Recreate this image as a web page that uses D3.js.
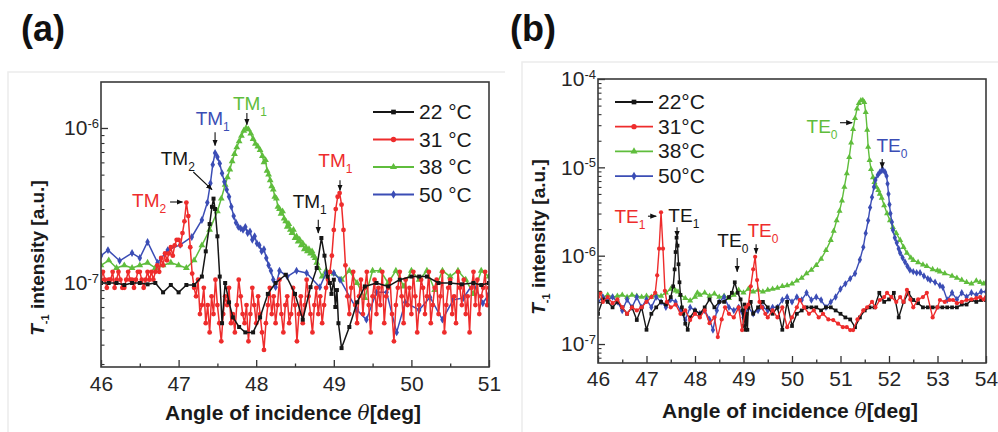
<!DOCTYPE html>
<html>
<head>
<meta charset="utf-8">
<script src="https://cdn.jsdelivr.net/npm/d3@7"></script>
<style>
  body { margin: 0; background: #fff; }
  svg text { font-family: "Liberation Sans", Arial, sans-serif; }
</style>
</head>
<body>
<svg id="chart" width="998" height="432"></svg>
<script>
// Intensities in the series below are in units of 1e-7 a.u.
const UNIT = 1e-7;

// ---------- Panel (a): TM modes ----------
const thetaTicksA = [46, 47, 48, 49, 50, 51];
const decadesA = [1e-7, 1e-6];
const legendA = ["22 °C", "31 °C", "38 °C", "50 °C"];

const tm22 = [[46.0,1.0],[46.1,1.0],[46.2,1.0],[46.3,0.97],[46.4,1.0],[46.5,1.0],[46.6,0.98],[46.7,1.0],[46.8,0.87],[46.9,0.97],[47.0,0.87],[47.1,0.97],[47.2,0.97],[47.3,1.1],[47.35,1.6],[47.4,2.4],[47.43,3.1],[47.45,3.5],[47.47,3.0],[47.5,2.0],[47.53,1.1],[47.56,0.55],[47.6,1.0],[47.65,0.75],[47.7,0.6],[47.78,0.52],[47.86,0.48],[47.96,0.48],[48.05,0.6],[48.15,0.85],[48.25,1.0],[48.38,1.13],[48.5,0.85],[48.6,0.58],[48.7,0.94],[48.78,1.25],[48.84,1.95],[48.88,1.5],[48.92,1.1],[48.95,1.0],[48.97,0.85],[49.0,1.05],[49.02,0.7],[49.04,0.9],[49.06,0.55],[49.1,0.38],[49.2,0.52],[49.3,0.75],[49.4,0.95],[49.55,1.0],[49.7,0.95],[49.85,1.05],[50.0,1.1],[50.1,1.1],[50.2,1.1],[50.35,1.0],[50.5,1.0],[50.65,0.98],[50.8,1.0],[50.9,0.97],[51.0,1.0]];

const tm31 = [
  [46.000,1.05],[46.025,1.18],[46.050,1.05],[46.075,0.93],[46.100,1.05],[46.125,1.05],[46.150,1.18],[46.175,0.93],[46.200,1.05],[46.225,1.18],
  [46.250,1.05],[46.275,0.93],[46.300,0.93],[46.325,1.05],[46.350,1.18],[46.375,1.05],[46.400,1.05],[46.425,0.93],[46.450,1.05],[46.475,1.18],
  [46.500,1.18],[46.525,1.05],[46.550,0.93],[46.575,1.05],[46.600,1.18],[46.625,1.05],[46.650,1.18],[46.675,1.05],[46.700,1.18],[46.725,1.3],
  [46.750,1.18],[46.775,1.45],[46.800,1.3],[46.825,1.55],[46.850,1.4],[46.875,1.55],[46.900,1.7],[46.925,1.5],[46.950,1.75],[46.975,1.9],
  [47.000,1.9],[47.025,1.75],[47.050,2.1],[47.075,2.5],[47.100,3.3],[47.125,2.7],[47.150,1.7],[47.175,1.15],[47.200,0.93],
  [47.225,0.82],[47.250,1.05],[47.275,0.63],[47.300,0.72],[47.325,0.93],[47.350,0.55],[47.375,0.72],[47.400,0.48],[47.425,0.82],[47.450,0.63],
  [47.475,1.05],[47.500,0.72],[47.525,0.55],[47.550,0.42],[47.575,0.63],[47.600,0.82],[47.625,0.72],[47.650,0.93],[47.675,0.55],[47.700,0.63],
  [47.725,0.48],[47.750,0.72],[47.775,1.05],[47.800,0.82],[47.825,0.63],[47.850,0.55],[47.875,0.72],[47.900,0.42],[47.925,0.63],[47.950,0.93],
  [47.975,0.72],[48.000,0.55],[48.025,0.82],[48.050,0.63],[48.075,0.48],[48.100,0.37],[48.125,0.55],[48.150,0.72],[48.175,0.93],[48.200,0.63],
  [48.225,0.82],[48.250,0.55],[48.275,0.72],[48.300,1.05],[48.325,0.63],[48.350,0.48],[48.375,0.72],[48.400,0.82],[48.425,0.55],[48.450,0.63],
  [48.475,0.93],[48.500,0.72],[48.525,0.42],[48.550,0.63],[48.575,0.82],[48.600,0.55],[48.625,0.72],[48.650,1.05],[48.675,0.82],[48.700,0.63],
  [48.725,0.48],[48.750,0.72],[48.775,0.93],[48.800,0.63],[48.825,0.82],[48.850,0.55],[48.875,0.72],[48.900,0.93],[48.925,1.05],[48.950,1.18],
  [48.975,1.5],[49.000,2.2],[49.025,3.0],[49.050,3.6],[49.075,3.8],[49.100,3.2],[49.125,2.2],[49.150,1.3],[49.175,0.82],[49.200,0.63],
  [49.225,0.93],[49.250,1.18],[49.275,0.72],[49.300,0.55],[49.325,0.82],[49.350,1.05],[49.375,0.63],[49.400,0.93],[49.425,1.18],[49.450,0.72],
  [49.475,0.48],[49.500,0.82],[49.525,1.05],[49.550,0.63],[49.575,0.93],[49.600,0.72],[49.625,1.18],[49.650,0.55],[49.675,0.82],[49.700,0.93],
  [49.725,1.05],[49.750,0.63],[49.775,0.42],[49.800,0.72],[49.825,0.93],[49.850,1.18],[49.875,0.82],[49.900,0.55],[49.925,1.05],[49.950,0.72],
  [49.975,0.93],[50.000,0.63],[50.025,1.18],[50.050,0.82],[50.075,0.48],[50.100,0.72],[50.125,1.05],[50.150,0.93],[50.175,0.63],[50.200,0.82],
  [50.225,1.18],[50.250,0.55],[50.275,0.72],[50.300,0.93],[50.325,1.05],[50.350,0.63],[50.375,0.82],[50.400,1.18],[50.425,0.48],[50.450,0.72],
  [50.475,0.93],[50.500,1.05],[50.525,0.63],[50.550,0.82],[50.575,0.55],[50.600,1.18],[50.625,0.93],[50.650,0.72],[50.675,1.05],[50.700,0.63],
  [50.725,0.82],[50.750,0.48],[50.775,0.93],[50.800,1.18],[50.825,0.72],[50.850,1.05],[50.875,0.63],[50.900,0.82],[50.925,0.93],[50.950,1.18],
  [50.975,0.72],[51.000,0.93]
];

const tm38 = [[46.0,1.3],[46.1,1.4],[46.2,1.25],[46.3,1.3],[46.4,1.25],[46.5,1.3],[46.6,1.35],[46.7,1.25],[46.8,1.3],[46.9,1.35],[47.0,1.3],[47.1,1.25],[47.2,1.4],[47.3,1.75],[47.4,2.2],[47.5,2.9],[47.55,3.5],[47.6,4.3],[47.63,4.8],[47.66,5.4],[47.69,6.1],[47.72,6.8],[47.75,7.5],[47.78,8.2],[47.81,8.9],[47.84,9.6],[47.87,10.0],[47.9,9.8],[47.93,9.2],[47.96,8.5],[47.99,7.9],[48.02,7.6],[48.05,7.2],[48.08,6.6],[48.1,6.0],[48.12,6.2],[48.14,5.3],[48.16,5.0],[48.18,4.6],[48.2,4.2],[48.22,4.0],[48.24,3.6],[48.26,3.5],[48.28,3.1],[48.3,3.0],[48.32,2.8],[48.34,2.9],[48.36,2.6],[48.38,2.5],[48.4,2.3],[48.42,2.4],[48.44,2.2],[48.46,2.1],[48.48,2.2],[48.5,1.95],[48.52,2.0],[48.54,1.85],[48.56,1.9],[48.58,1.75],[48.6,1.8],[48.62,1.65],[48.64,1.7],[48.66,1.6],[48.68,1.65],[48.7,1.55],[48.72,1.6],[48.74,1.5],[48.76,1.45],[48.78,1.35],[48.8,1.25],[48.85,1.1],[48.9,1.2],[49.0,1.15],[49.1,1.05],[49.2,1.2],[49.3,1.0],[49.4,0.8],[49.5,1.2],[49.6,1.2],[49.7,1.0],[49.8,1.2],[49.9,0.95],[50.0,1.2],[50.1,1.05],[50.2,1.2],[50.3,0.9],[50.4,1.2],[50.5,1.1],[50.6,1.2],[50.7,1.05],[50.8,0.85],[50.9,1.2],[51.0,1.1]];

const tm50 = [[46.0,1.5],[46.09,1.63],[46.24,1.39],[46.4,1.56],[46.5,1.45],[46.6,1.84],[46.73,1.35],[46.86,1.63],[47.02,1.76],[47.17,1.98],[47.3,2.55],[47.37,3.3],[47.41,4.4],[47.44,5.8],[47.47,6.9],[47.5,6.5],[47.53,5.9],[47.56,5.1],[47.59,4.5],[47.62,4.0],[47.65,3.6],[47.68,3.1],[47.71,2.7],[47.74,2.45],[47.77,2.3],[47.8,2.25],[47.83,2.2],[47.86,2.3],[47.89,2.1],[47.92,2.15],[47.95,1.9],[47.98,2.0],[48.01,1.8],[48.04,1.75],[48.07,1.6],[48.1,1.65],[48.13,1.45],[48.16,1.3],[48.19,1.2],[48.22,1.05],[48.25,0.94],[48.3,1.2],[48.4,1.1],[48.52,1.2],[48.65,1.16],[48.82,0.94],[48.9,1.16],[49.0,1.16],[49.08,1.05],[49.3,0.67],[49.42,0.58],[49.55,0.87],[49.68,0.87],[49.81,0.48],[49.92,0.75],[50.1,0.67],[50.24,0.81],[50.4,0.58],[50.54,0.78],[50.67,0.8],[50.8,1.0],[50.92,0.74],[51.0,0.85]];

// ---------- Panel (b): TE modes ----------
const thetaTicksB = [46, 47, 48, 49, 50, 51, 52, 53, 54];
const decadesB = [1e-7, 1e-6, 1e-5, 1e-4];
const legendB = ["22°C", "31°C", "38°C", "50°C"];

const te22 = [[46.0,2.2],[46.1,3.2],[46.2,3.0],[46.3,2.6],[46.4,3.0],[46.5,2.6],[46.6,2.2],[46.7,2.6],[46.8,1.87],[46.9,2.6],[47.0,1.45],[47.1,2.2],[47.2,2.6],[47.3,3.0],[47.4,2.8],[47.5,3.4],[47.55,4.5],[47.58,7],[47.6,11],[47.62,16],[47.64,13],[47.66,8],[47.68,5],[47.7,3.6],[47.73,2.6],[47.76,2.2],[47.8,1.7],[47.85,1.45],[47.9,2.0],[48.0,2.4],[48.1,2.2],[48.2,2.6],[48.3,3.2],[48.4,2.6],[48.5,3.0],[48.6,3.0],[48.7,3.4],[48.76,3.8],[48.82,5.0],[48.88,3.8],[48.94,3.2],[48.98,2.4],[49.0,1.6],[49.02,2.8],[49.04,1.45],[49.06,2.2],[49.08,1.45],[49.1,2.6],[49.15,3.0],[49.2,2.2],[49.3,2.6],[49.4,3.0],[49.5,2.6],[49.6,2.2],[49.7,2.6],[49.8,1.45],[49.9,3.0],[50.0,1.6],[50.1,2.2],[50.2,2.4],[50.3,2.6],[50.4,2.6],[50.5,2.6],[50.6,2.4],[50.7,2.6],[50.8,2.6],[50.9,2.4],[51.0,2.2],[51.1,2.0],[51.2,1.9],[51.3,1.55],[51.4,2.0],[51.5,2.4],[51.6,2.6],[51.7,2.6],[51.8,3.8],[51.9,3.0],[52.0,3.2],[52.1,3.8],[52.2,2.0],[52.3,3.0],[52.4,3.8],[52.5,3.15],[52.6,2.9],[52.7,2.6],[52.8,2.6],[52.9,2.6],[53.0,2.6],[53.1,2.6],[53.2,2.6],[53.3,2.6],[53.4,2.6],[53.5,2.8],[53.6,2.8],[53.7,3.15],[53.8,3.0],[53.9,3.15],[54.0,3.15]];

const te31 = [[46.0,3.4],[46.05,3.8],[46.1,3.0],[46.2,3.4],[46.3,2.9],[46.4,3.2],[46.5,2.6],[46.6,2.2],[46.7,2.6],[46.8,2.4],[46.9,2.6],[47.0,3.0],[47.1,3.4],[47.18,3.8],[47.22,6],[47.26,12],[47.3,31],[47.34,12],[47.38,4],[47.42,3.0],[47.5,2.6],[47.6,2.8],[47.7,2.2],[47.8,2.4],[47.9,1.87],[48.0,2.2],[48.1,2.0],[48.2,2.4],[48.3,1.72],[48.4,2.0],[48.47,1.2],[48.55,1.9],[48.62,2.6],[48.7,2.2],[48.8,2.0],[48.9,2.6],[48.97,1.44],[49.05,2.6],[49.1,2.8],[49.15,4.5],[49.2,7],[49.24,9.7],[49.28,5.3],[49.33,3.0],[49.38,2.6],[49.45,2.2],[49.5,2.0],[49.6,2.4],[49.7,2.0],[49.8,2.6],[49.9,1.55],[50.0,2.0],[50.1,2.6],[50.16,3.15],[50.25,2.6],[50.35,2.2],[50.45,2.4],[50.55,2.0],[50.64,2.2],[50.75,1.9],[50.85,1.87],[50.95,1.7],[51.05,1.55],[51.13,1.55],[51.2,1.44],[51.26,1.44],[51.35,1.9],[51.47,2.4],[51.55,2.6],[51.65,3.0],[51.72,2.6],[51.81,3.15],[51.9,3.4],[51.96,3.8],[52.05,3.4],[52.15,3.0],[52.23,3.4],[52.3,3.0],[52.37,4.1],[52.44,3.2],[52.5,2.6],[52.6,3.2],[52.7,3.4],[52.78,3.8],[52.9,2.0],[53.0,2.6],[53.05,3.15],[53.15,3.0],[53.25,3.15],[53.32,3.15],[53.4,2.9],[53.5,3.0],[53.6,3.15],[53.7,3.2],[53.8,3.3],[53.88,3.4],[53.95,3.2],[54.0,3.4]];

const te38 = [[46.0,3.8],[46.1,3.4],[46.2,3.6],[46.3,3.4],[46.4,3.5],[46.5,3.6],[46.6,3.4],[46.7,3.6],[46.8,3.5],[46.9,3.4],[47.0,3.5],[47.1,3.4],[47.2,3.6],[47.3,3.5],[47.4,3.8],[47.5,4.2],[47.55,4.4],[47.6,4.0],[47.65,3.9],[47.7,3.6],[47.8,3.3],[47.9,3.1],[48.0,3.4],[48.05,3.8],[48.1,3.6],[48.2,3.8],[48.3,3.5],[48.4,3.7],[48.5,3.4],[48.6,3.5],[48.7,3.3],[48.8,3.6],[48.9,4.1],[49.0,3.8],[49.1,4.2],[49.2,3.9],[49.3,4.1],[49.4,3.9],[49.5,4.1],[49.6,4.2],[49.7,4.3],[49.8,4.5],[49.9,4.6],[50.0,4.8],[50.1,5.2],[50.2,5.6],[50.3,6.3],[50.4,6.9],[50.5,7.8],[50.6,9.2],[50.7,11.5],[50.8,15],[50.86,19],[50.92,25],[50.98,32],[51.03,42],[51.08,60],[51.13,85],[51.18,130],[51.22,190],[51.26,270],[51.3,360],[51.34,460],[51.38,530],[51.42,570],[51.46,575],[51.49,545],[51.52,420],[51.55,265],[51.57,170],[51.6,120],[51.63,95],[51.67,77],[51.7,68],[51.74,60],[51.78,55],[51.81,50],[51.85,45],[51.9,37],[51.96,30],[52.02,25],[52.08,21],[52.15,18],[52.23,15],[52.3,12.5],[52.37,10.7],[52.45,9.5],[52.5,8.9],[52.6,8.4],[52.7,7.9],[52.78,7.6],[52.9,7.0],[53.0,6.8],[53.05,6.6],[53.15,6.3],[53.3,5.9],[53.4,5.6],[53.5,5.3],[53.6,5.0],[53.7,4.8],[53.8,5.2],[53.88,5.0],[53.95,4.8],[54.0,5.0]];

const te50 = [[46.0,3.0],[46.1,3.4],[46.2,3.2],[46.3,3.4],[46.4,3.0],[46.5,2.4],[46.6,3.2],[46.7,2.6],[46.8,3.4],[46.9,2.6],[47.0,3.2],[47.1,2.6],[47.2,3.4],[47.3,3.0],[47.4,2.6],[47.5,3.2],[47.6,3.0],[47.7,2.4],[47.8,1.87],[47.9,2.6],[48.0,2.4],[48.1,2.2],[48.2,2.4],[48.3,1.9],[48.37,1.44],[48.45,2.4],[48.5,3.0],[48.6,3.4],[48.7,2.6],[48.8,2.4],[48.9,2.6],[49.0,2.0],[49.1,2.6],[49.2,2.2],[49.3,2.4],[49.4,2.6],[49.5,2.4],[49.6,2.6],[49.7,2.6],[49.8,3.15],[49.9,3.4],[50.0,3.0],[50.1,3.4],[50.2,3.15],[50.3,3.8],[50.4,3.15],[50.5,3.4],[50.6,3.15],[50.7,2.6],[50.8,3.0],[50.9,3.4],[51.0,4.2],[51.1,4.8],[51.2,5.5],[51.3,6.3],[51.4,9],[51.47,12.5],[51.52,18],[51.57,25],[51.61,35],[51.65,46],[51.69,60],[51.72,72],[51.77,82],[51.81,88],[51.85,92],[51.88,93],[51.92,88],[51.95,80],[51.97,65],[51.99,50],[52.01,38],[52.03,30],[52.06,24],[52.08,19.5],[52.12,16],[52.16,14],[52.2,12],[52.23,10.7],[52.28,9.5],[52.33,8.5],[52.38,7.6],[52.43,6.9],[52.5,6.6],[52.57,6.4],[52.64,6.4],[52.72,5.9],[52.8,5.5],[52.85,5.3],[52.95,5.0],[53.05,4.6],[53.11,4.4],[53.2,3.15],[53.3,3.8],[53.4,3.2],[53.5,3.8],[53.6,3.4],[53.7,3.8],[53.8,3.6],[53.9,3.9],[54.0,3.9]];

// ---------- styles ----------
const COLORS = ["#161616", "#ee2c2c", "#5fbd3c", "#3b4db5"];
const SYMBOLS = [d3.symbolSquare, d3.symbolCircle, d3.symbolTriangle, d3.symbolDiamond];

const svg = d3.select("#chart");
const defs = svg.append("defs");
defs.append("marker")
  .attr("id", "arrowHead")
  .attr("viewBox", "0 0 10 10")
  .attr("refX", 9).attr("refY", 5)
  .attr("markerWidth", 6).attr("markerHeight", 6)
  .attr("orient", "auto")
  .append("path").attr("d", "M0,1L10,5L0,9z").attr("fill", "#111");

// faint outlines of the two figure tiles
svg.append("path").attr("d", "M8,432V72H505").attr("fill", "none").attr("stroke", "#ececec").attr("stroke-width", 1.5);
svg.append("path").attr("d", "M522,432V62H998").attr("fill", "none").attr("stroke", "#ececec").attr("stroke-width", 1.5);

function drawPanel(p) {
  const g = svg.append("g");
  const x = d3.scaleLinear().domain(p.xDomain).range([p.box.left, p.box.right]);
  const y = d3.scaleLog().domain(p.yDomain).range([p.box.bottom, p.box.top]);
  const yv = v => y(v * UNIT);

  // clip region for the data
  defs.append("clipPath").attr("id", p.id + "-clip")
    .append("rect")
    .attr("x", p.box.left).attr("y", p.box.top)
    .attr("width", p.box.right - p.box.left).attr("height", p.box.bottom - p.box.top);
  const plot = g.append("g").attr("clip-path", `url(#${p.id}-clip)`);

  const line = d3.line().x(d => x(d[0])).y(d => yv(d[1]));
  p.order.forEach(i => {
    const s = p.series[i];
    const sg = plot.append("g");
    sg.append("path").attr("d", line(s)).attr("fill", "none")
      .attr("stroke", COLORS[i]).attr("stroke-width", p.lineWidth).attr("stroke-linejoin", "round");
    sg.selectAll("path.pt").data(s).join("path").attr("class", "pt")
      .attr("transform", d => `translate(${x(d[0])},${yv(d[1])})`)
      .attr("d", d3.symbol().type(SYMBOLS[i]).size(p.markerSize[i]))
      .attr("fill", COLORS[i]);
  });

  // x axis (inward ticks)
  const xMinor = d3.range(p.xDomain[0], p.xDomain[1] + 0.01, 0.5).filter(v => v % 1 !== 0);
  g.append("g").attr("transform", `translate(0,${p.box.bottom})`)
    .call(d3.axisBottom(x).tickValues(xMinor).tickSize(-3.5).tickFormat(""))
    .call(a => a.select(".domain").remove())
    .selectAll("line").attr("stroke", "#333").attr("stroke-width", 1.3);
  g.append("g").attr("transform", `translate(0,${p.box.bottom})`)
    .call(d3.axisBottom(x).tickValues(p.xTicks).tickSizeInner(-7).tickSizeOuter(0).tickPadding(p.xPad).tickFormat(d3.format("d")))
    .call(a => a.select(".domain").remove())
    .call(a => a.selectAll("line").attr("stroke", "#333").attr("stroke-width", 1.3))
    .call(a => a.selectAll("text").attr("font-size", 21).attr("fill", "#262626")
      .attr("font-family", '"Liberation Sans", Arial, sans-serif'));

  // y axis, log scale with minor ticks
  const lo = Math.floor(Math.log10(p.yDomain[0])), hi = Math.ceil(Math.log10(p.yDomain[1]));
  const yMinor = [];
  for (let e = lo; e < hi; e++) for (let k = 2; k <= 9; k++) {
    const v = k * Math.pow(10, e);
    if (v >= p.yDomain[0] && v <= p.yDomain[1]) yMinor.push(v);
  }
  g.append("g").attr("transform", `translate(${p.box.left},0)`)
    .call(d3.axisLeft(y).tickValues(yMinor).tickSize(-3.5).tickFormat(""))
    .call(a => a.select(".domain").remove())
    .selectAll("line").attr("stroke", "#333").attr("stroke-width", 1.1);
  g.append("g").attr("transform", `translate(${p.box.left},0)`)
    .call(d3.axisLeft(y).tickValues(p.decades).tickSizeInner(-7).tickSizeOuter(0).tickPadding(p.yPad).tickFormat(""))
    .call(a => a.select(".domain").remove())
    .call(a => a.selectAll("line").attr("stroke", "#333").attr("stroke-width", 1.3))
    .call(a => a.selectAll("text").each(function (d) {
      const t = d3.select(this).attr("font-size", 21).attr("fill", "#262626")
        .attr("font-family", '"Liberation Sans", Arial, sans-serif');
      t.text("10");
      t.append("tspan").attr("dy", "-0.55em").attr("font-size", 13).text(String(Math.round(Math.log10(d))));
    }));

  // frame
  g.append("rect").attr("x", p.box.left).attr("y", p.box.top)
    .attr("width", p.box.right - p.box.left).attr("height", p.box.bottom - p.box.top)
    .attr("fill", "none").attr("stroke", "#3a3a3a").attr("stroke-width", 1.6);

  // axis titles
  const xt = g.append("text").attr("x", (p.box.left + p.box.right) / 2 - 2).attr("y", p.xTitleY)
    .attr("text-anchor", "middle").attr("font-size", 21).attr("font-weight", "bold").attr("fill", "#1a1a1a");
  xt.append("tspan").text("Angle of incidence ");
  xt.append("tspan").attr("font-style", "italic").attr("font-weight", "normal").attr("font-family", '"DejaVu Serif", serif').attr("font-size", 20).text("θ");
  xt.append("tspan").text("[deg]");

  const yt = g.append("text")
    .attr("transform", `translate(${p.yTitleX},${p.yTitleCY}) rotate(-90)`)
    .attr("text-anchor", "middle").attr("font-size", 19).attr("font-weight", "bold").attr("fill", "#1a1a1a");
  yt.append("tspan").attr("font-style", "italic").text("T");
  yt.append("tspan").attr("font-size", 11).attr("dy", 5).text("-1");
  yt.append("tspan").attr("dy", -5).text(" intensity [a.u.]");

  // panel letter
  g.append("text").attr("x", p.letterX).attr("y", 41).attr("font-size", 36).attr("font-weight", "bold")
    .attr("font-family", '"Open Sans", "Liberation Sans", sans-serif').attr("fill", "#111").text(p.letter);

  // legend
  p.legend.forEach((lab, i) => {
    const cy = p.legendPos.y + i * p.legendPos.dy;
    const x0 = p.legendPos.x, x1 = p.legendPos.x + p.legendPos.len;
    g.append("line").attr("x1", x0).attr("x2", x1).attr("y1", cy).attr("y2", cy)
      .attr("stroke", COLORS[i]).attr("stroke-width", 1.8);
    g.append("path").attr("transform", `translate(${(x0 + x1) / 2},${cy})`)
      .attr("d", d3.symbol().type(SYMBOLS[i]).size(22)).attr("fill", COLORS[i]);
    g.append("text").attr("x", x1 + 5).attr("y", cy + 7).attr("font-size", 21).attr("fill", "#1a1a1a")
      .text(lab);
  });

  // mode labels with arrows
  p.notes.forEach(n => {
    const t = g.append("text").attr("x", x(n.t)).attr("y", yv(n.v)).attr("text-anchor", "middle")
      .attr("font-size", 19).attr("fill", n.color);
    t.append("tspan").text(n.mode);
    t.append("tspan").attr("font-size", 12).attr("dy", 6).text(n.sub);
    g.append("line")
      .attr("x1", x(n.from[0])).attr("y1", yv(n.from[1]))
      .attr("x2", x(n.to[0])).attr("y2", yv(n.to[1]))
      .attr("stroke", "#111").attr("stroke-width", 1.1).attr("marker-end", "url(#arrowHead)");
  });
}

drawPanel({
  id: "pa", letter: "(a)", letterX: 21,
  box: { left: 101, right: 489, top: 82, bottom: 367 },
  xDomain: [46, 51], yDomain: [2.87e-8, 1.98e-6],
  xTicks: thetaTicksA, decades: decadesA, xPad: 9, yPad: 2,
  series: [tm22, tm31, tm38, tm50], order: [2, 3, 1, 0],
  lineWidth: 1.5, markerSize: [16, 18, 20, 18],
  xTitleY: 420, yTitleX: 44, yTitleCY: 258,
  legend: legendA, legendPos: { x: 373, y: 112, dy: 27.5, len: 41 },
  notes: [
    { mode: "TM", sub: "1", color: COLORS[3], t: 47.44, v: 10.45, from: [47.47, 9.4], to: [47.47, 7.7] },
    { mode: "TM", sub: "1", color: COLORS[2], t: 47.92, v: 13.1, from: [47.88, 12.5], to: [47.88, 10.5] },
    { mode: "TM", sub: "2", color: COLORS[0], t: 46.99, v: 5.77, from: [47.19, 5.2], to: [47.43, 4.0] },
    { mode: "TM", sub: "2", color: COLORS[1], t: 46.62, v: 3.09, from: [46.89, 3.33], to: [47.05, 3.33] },
    { mode: "TM", sub: "1", color: COLORS[0], t: 48.69, v: 3.05, from: [48.8, 2.56], to: [48.8, 2.1] },
    { mode: "TM", sub: "1", color: COLORS[1], t: 49.02, v: 5.6, from: [49.08, 4.6], to: [49.08, 3.95] }
  ]
});

drawPanel({
  id: "pb", letter: "(b)", letterX: 510,
  box: { left: 598, right: 986, top: 79, bottom: 363 },
  xDomain: [46, 54], yDomain: [6.1e-8, 1e-4],
  xTicks: thetaTicksB, decades: decadesB, xPad: 8, yPad: 2,
  series: [te22, te31, te38, te50], order: [2, 3, 0, 1],
  lineWidth: 1.4, markerSize: [14, 14, 16, 16],
  xTitleY: 418, yTitleX: 545, yTitleCY: 237,
  legend: legendB, legendPos: { x: 615, y: 102, dy: 24.7, len: 38 },
  notes: [
    { mode: "TE", sub: "1", color: COLORS[1], t: 46.66, v: 23.4, from: [47.03, 28], to: [47.2, 28] },
    { mode: "TE", sub: "1", color: COLORS[0], t: 47.77, v: 24, from: [47.63, 21], to: [47.63, 16.3] },
    { mode: "TE", sub: "0", color: COLORS[0], t: 48.78, v: 12.5, from: [48.87, 9.4], to: [48.87, 6.6] },
    { mode: "TE", sub: "0", color: COLORS[1], t: 49.4, v: 16.3, from: [49.26, 13.5], to: [49.26, 10.6] },
    { mode: "TE", sub: "0", color: COLORS[2], t: 50.62, v: 245, from: [50.99, 320], to: [51.24, 320] },
    { mode: "TE", sub: "0", color: COLORS[3], t: 52.06, v: 149, from: [51.86, 124], to: [51.86, 98] }
  ]
});
</script>
</body>
</html>
